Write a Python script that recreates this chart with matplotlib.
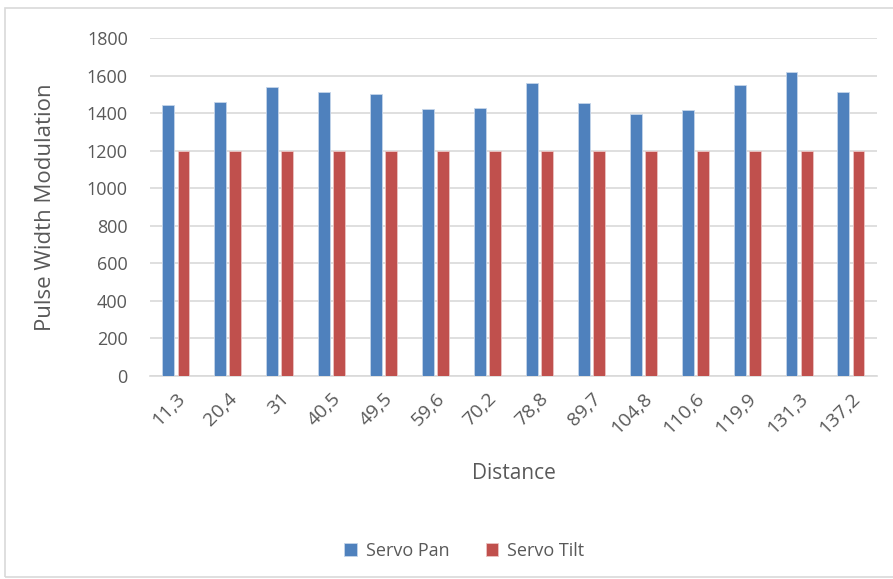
import matplotlib.pyplot as plt
import numpy as np
from matplotlib.patches import Rectangle

distances = ["11,3", "20,4", "31", "40,5", "49,5", "59,6", "70,2", "78,8",
             "89,7", "104,8", "110,6", "119,9", "131,3", "137,2"]
servo_pan = [1445, 1460, 1540, 1512, 1502, 1424, 1430, 1560, 1452, 1398,
             1415, 1548, 1622, 1512]
servo_tilt = [1200] * 14

plt.rcParams['font.family'] = ['Open Sans', 'DejaVu Sans']

fig = plt.figure(figsize=(8.93, 5.79), dpi=100)
ax = fig.add_axes([0.168, 0.351, 0.814, 0.583])

# light frame around the whole chart
fig.patches.append(Rectangle((0.006, 0.003), 1.2, 0.983, transform=fig.transFigure,
                             fill=False, edgecolor='#d9d9d9', linewidth=1.2))

x = np.arange(len(distances))
w = 0.23
ax.bar(x - w / 2 - 0.03, servo_pan, w, color='#4f81bd', edgecolor='#c5d5ea',
       linewidth=0.6, label='Servo Pan', zorder=3)
ax.bar(x + w / 2 + 0.03, servo_tilt, w, color='#c0504d', edgecolor='#ecc4c3',
       linewidth=0.6, label='Servo Tilt', zorder=3)

ax.set_xlim(-0.5, len(distances) - 0.5)
ax.set_ylim(0, 1800)
ax.set_yticks(range(0, 1801, 200))
ax.grid(axis='y', color='#d9d9d9', linewidth=1.2, zorder=0)
for s in ['top', 'right', 'left']:
    ax.spines[s].set_visible(False)
ax.spines['bottom'].set_color('#d9d9d9')
ax.spines['bottom'].set_linewidth(1.2)
ax.tick_params(length=0, colors='#595959', labelsize=13)
ax.tick_params(axis='y', pad=16)
ax.set_xticks(x)
ax.set_xticklabels(distances, rotation=45, ha='right', rotation_mode='anchor',
                   fontsize=14)
ax.tick_params(axis='x', pad=10)

ax.set_xlabel('Distance', fontsize=15, color='#595959', labelpad=18)
ax.set_ylabel('Pulse Width Modulation', fontsize=16, color='#595959', labelpad=22)

fig.legend(loc='lower center', bbox_to_anchor=(0.52, 0.005), ncol=2, frameon=False,
           fontsize=13, labelcolor='#595959', handlelength=0.7, handleheight=0.7,
           columnspacing=2.0, handletextpad=0.5)

fig.savefig('out.png', dpi=100)
